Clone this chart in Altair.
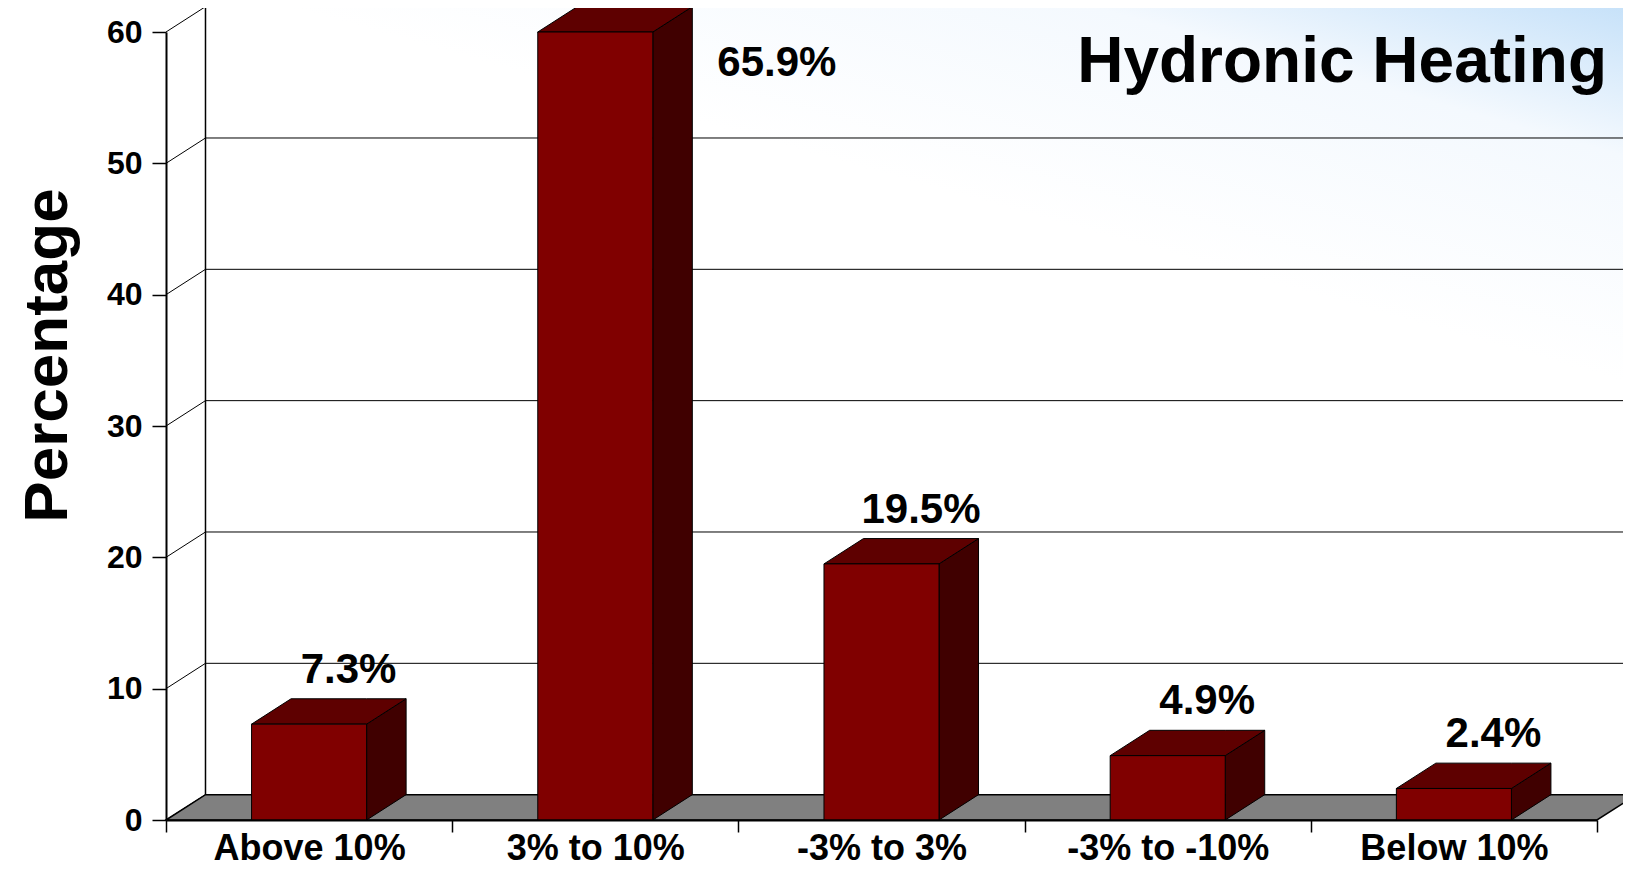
import json
import altair as alt
import pandas as pd

# ---------------- data ----------------
categories = ["Above 10%", "3% to 10%", "-3% to 3%", "-3% to -10%", "Below 10%"]
values = [7.3, 65.9, 19.5, 4.9, 2.4]
value_labels = ["7.3%", "65.9%", "19.5%", "4.9%", "2.4%"]
y_ticks = [0, 10, 20, 30, 40, 50, 60]
chart_title = "Hydronic Heating"
Y_MAX = 60

# ---------------- geometry / style ----------------
PLOT_W, PLOT_H = 1431, 788
N = len(categories)
DX = 0.138     # 3-D depth, in category units
DY = 1.93      # 3-D depth, in value units
BW = 0.402     # bar width, in category units
WALL_END = N + DX + 0.4
FONT = "Liberation Sans, Arial, Helvetica, sans-serif"
FRONT, TOP, SIDE = "#800000", "#5e0000", "#400000"

xs = alt.Scale(domain=[0, N], nice=False, zero=False)
ys = alt.Scale(domain=[0, Y_MAX], nice=False, zero=True)

label_expr = json.dumps(categories + [""]) + "[datum.value]"
x_axis = alt.Axis(values=list(range(N + 1)), labelExpr=label_expr,
                  labelOffset=PLOT_W / N / 2, labelFontSize=36, labelFont=FONT,
                  labelFontWeight="bold", labelColor="black", labelBaseline="alphabetic",
                  labelPadding=27, labelFlush=False, labelOverlap=False, labelBound=False,
                  labelLimit=500,
                  tickSize=12, tickColor="black", tickWidth=1.5,
                  domainColor="black", domainWidth=2, grid=False, title=None, zindex=1)
y_axis = alt.Axis(values=y_ticks, labelFontSize=32, labelFont=FONT, labelFontWeight="bold",
                  labelColor="black", labelPadding=10, tickSize=14, tickColor="black",
                  tickWidth=1.5, domainColor="black", domainWidth=2, grid=False,
                  title="Percentage", titleFont=FONT, titleFontSize=62, titleFontWeight="bold",
                  titleColor="black", titleAngle=270, titleAlign="center",
                  titleBaseline="alphabetic", titleX=-100, titleY=323, zindex=1)


def X(f):
    return alt.X(f, type="quantitative", scale=xs, axis=x_axis)


def Y(f):
    return alt.Y(f, type="quantitative", scale=ys, axis=y_axis)


# ---------------- derived tables ----------------
bars = pd.DataFrame({"cat": categories, "value": values, "label": value_labels})
bars["c"] = [i + 0.5 for i in range(N)]
bars["h"] = bars["value"].clip(upper=Y_MAX)
bars["x0"] = bars["c"] - BW / 2
bars["x1"] = bars["c"] + BW / 2
bars["clipped"] = bars["value"] > Y_MAX
bars["lx"] = bars["c"] + DX
bars["ly"] = bars["h"] + DY
bars["rx"] = bars["x1"] + DX
bars["zero"] = 0.0

top_rows, side_rows = [], []
for _, r in bars.iterrows():
    h = r["h"]
    top_rows += [
        {"cat": r["cat"], "x": r["x0"], "y": h, "y2": h},
        {"cat": r["cat"], "x": r["x0"] + DX, "y": h + DY, "y2": h},
        {"cat": r["cat"], "x": r["x1"], "y": h + DY, "y2": h},
        {"cat": r["cat"], "x": r["x1"] + DX, "y": h + DY, "y2": h + DY},
    ]
    side_rows += [
        {"cat": r["cat"], "x": r["x1"], "y": h, "y2": 0.0},
        {"cat": r["cat"], "x": r["x1"] + DX, "y": h + DY, "y2": DY},
    ]
top_df = pd.DataFrame(top_rows)
side_df = pd.DataFrame(side_rows)

floor_df = pd.DataFrame({"x": [0, DX, N, N + DX],
                         "y": [0, DY, DY, DY], "y2": [0, 0, 0, DY]})

grid_df = pd.DataFrame({"v": y_ticks})
grid_df["vb"] = grid_df["v"] + DY
grid_df["xa"] = DX
grid_df["xb"] = WALL_END
grid_df["x0"] = 0.0

wall_df = pd.DataFrame({"x": [DX], "x2": [WALL_END], "y": [DY], "y2": [Y_MAX + DY]})
title_df = pd.DataFrame({"t": [chart_title], "x": [N], "y": [Y_MAX]})

# ---------------- layers ----------------
wall_fill = alt.Gradient(
    gradient="linear",
    stops=[alt.GradientStop(color="#ffffff", offset=0),
           alt.GradientStop(color="#f4f9fe", offset=0.55),
           alt.GradientStop(color="#bcdcf8", offset=1)],
    x1=0.78, y1=0.4, x2=1.0, y2=0.0)

wall = alt.Chart(wall_df).mark_rect(fill=wall_fill, strokeWidth=0).encode(
    x=X("x"), x2="x2", y=Y("y"), y2="y2")

back_grid = alt.Chart(grid_df).transform_filter("datum.v > 0").mark_rule(color="black").encode(
    x=X("xa"), x2="xb", y=Y("vb"),
    strokeWidth=alt.condition(alt.datum.v == Y_MAX, alt.value(2.2), alt.value(1)))

side_grid = alt.Chart(grid_df).mark_rule(color="black", strokeWidth=1).encode(
    x=X("x0"), x2="xa", y=Y("v"), y2="vb")

wall_edge = alt.Chart(wall_df).mark_rule(color="black", strokeWidth=1.5).encode(
    x=X("x"), y=Y("y"), y2="y2")

floor = alt.Chart(floor_df).mark_area(orient="vertical", fill="#808080", stroke="black",
                                      strokeWidth=1.5).encode(
    x=X("x"), y=Y("y"), y2="y2")

front = alt.Chart(bars).mark_rect(fill=FRONT, stroke="black", strokeWidth=1).encode(
    x=X("x0"), x2="x1", y=Y("zero"), y2="h")

top = alt.Chart(top_df).mark_area(orient="vertical", fill=TOP, stroke="black",
                                  strokeWidth=1).encode(
    x=X("x"), y=Y("y"), y2="y2", detail="cat:N")

side = alt.Chart(side_df).mark_area(orient="vertical", fill=SIDE, stroke="black",
                                    strokeWidth=1).encode(
    x=X("x"), y=Y("y"), y2="y2", detail="cat:N")

labels = alt.Chart(bars).transform_filter("!datum.clipped").mark_text(
    font=FONT, fontSize=42, fontWeight="bold", color="black", align="center",
    baseline="alphabetic", dy=-16).encode(x=X("lx"), y=Y("ly"), text="label:N")

labels_clipped = alt.Chart(bars).transform_filter("datum.clipped").transform_calculate(
    top=str(Y_MAX)).mark_text(
    font=FONT, fontSize=42, fontWeight="bold", color="black", align="left",
    baseline="alphabetic", dx=25, dy=44).encode(x=X("rx"), y=Y("top:Q"), text="label:N")

title = alt.Chart(title_df).mark_text(
    font=FONT, fontSize=64, fontWeight="bold", color="black", align="right",
    baseline="alphabetic", dx=10, dy=50).encode(x=X("x"), y=Y("y"), text="t:N")

chart = alt.layer(wall, back_grid, side_grid, wall_edge, floor, side, top, front,
                  labels, labels_clipped, title).properties(
    width=PLOT_W, height=PLOT_H,
    padding={"left": 158, "top": 24, "right": 26, "bottom": 48},
    autosize=alt.AutoSizeParams(type="none"),
    background="white",
).configure_view(stroke=None)

chart.save("out.html", embed_options={"renderer": "svg", "actions": False})
